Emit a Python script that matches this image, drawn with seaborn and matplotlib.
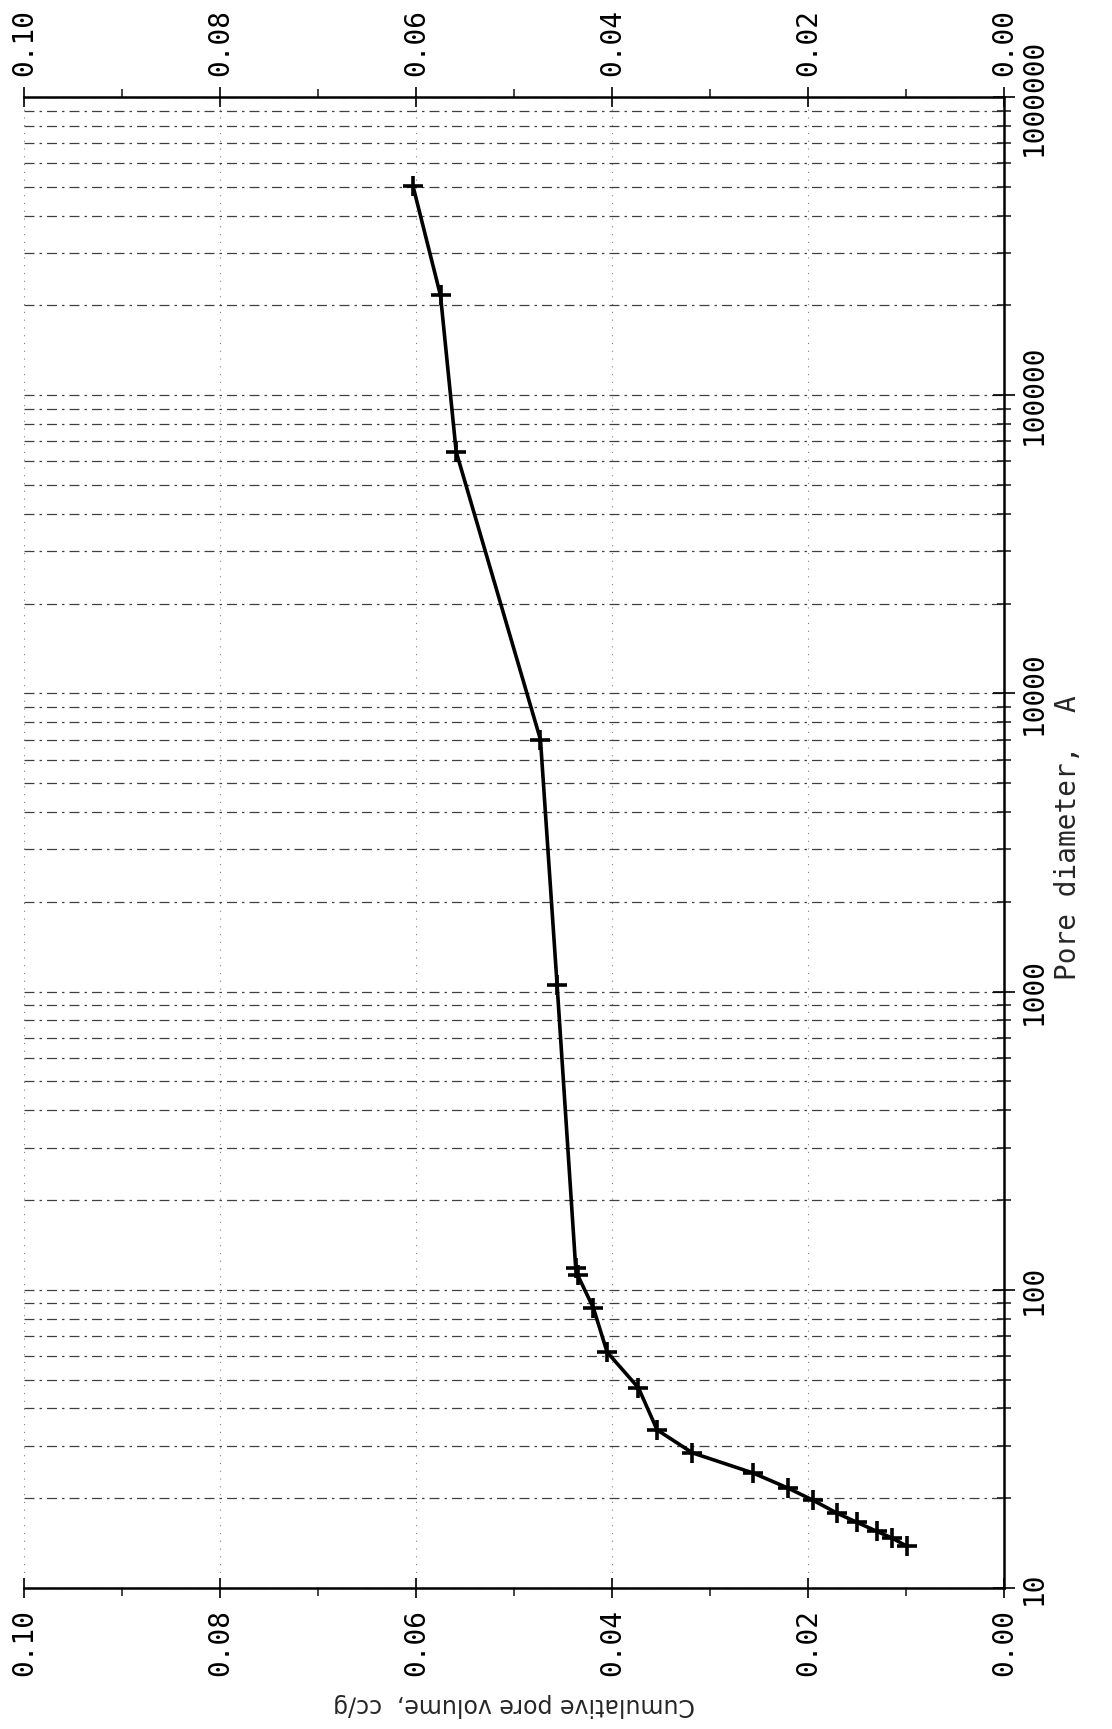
import matplotlib
matplotlib.use('Agg')
import matplotlib.pyplot as plt
from matplotlib.ticker import FixedLocator, LogLocator, NullFormatter
import seaborn as sns

# mercury porosimetry curve
pore_diameter = [13.8, 14.7, 15.5, 16.6, 17.8, 19.7, 21.6, 24.3, 28.4, 33.9,
                 46.9, 61.8, 86.9, 112, 118, 1050, 7000, 64600, 216000, 502000]
cum_volume = [0.0099, 0.0114, 0.0130, 0.0150, 0.0170, 0.0195, 0.0220, 0.0256, 0.0318, 0.0354,
              0.0373, 0.0405, 0.0419, 0.0435, 0.0437, 0.0456, 0.0473, 0.0559, 0.0575, 0.0603]

volume_ticks = [0.00, 0.02, 0.04, 0.06, 0.08, 0.10]
volume_labels = ['0.00', '0.02', '0.04', '0.06', '0.08', '0.10']
volume_minor = [0.01, 0.03, 0.05, 0.07, 0.09]
diameter_ticks = [10, 100, 1000, 10000, 100000, 1000000]
diameter_labels = ['10', '100', '1000', '10000', '100000', '1000000']

sns.set_style('white')
plt.rcParams['font.family'] = ['DejaVu Sans Mono', 'DejaVu Sans']

fig = plt.figure(figsize=(11.12, 17.29), dpi=100)
ax = fig.add_axes([24 / 1112, 141 / 1729, 980 / 1112, 1491 / 1729])

sns.lineplot(x=cum_volume, y=pore_diameter, sort=False, color='black',
             linewidth=2.6, marker='+', markersize=14, markeredgewidth=2.6,
             markeredgecolor='black', ax=ax)

ax.set_yscale('log')
ax.set_ylim(10, 1e6)
ax.set_xlim(0.10, 0.0)

# volume axis (drawn along top and bottom)
ax.set_xticks(volume_ticks)
ax.set_xticklabels(volume_labels)
ax.xaxis.set_minor_locator(FixedLocator(volume_minor))
ax.tick_params(axis='x', which='major', top=True, bottom=True, labeltop=True,
               labelbottom=True, direction='inout', length=14, width=1.2,
               pad=8, labelsize=20, labelrotation=90, colors='black')
ax.tick_params(axis='x', which='minor', top=True, bottom=True,
               direction='out', length=6, width=1.2)

# pore diameter axis (right side)
ax.set_yticks(diameter_ticks)
ax.set_yticklabels(diameter_labels)
ax.yaxis.set_minor_locator(LogLocator(base=10, subs=range(2, 10)))
ax.yaxis.set_minor_formatter(NullFormatter())
ax.tick_params(axis='y', which='major', left=False, right=True, labelleft=False,
               labelright=True, direction='inout', length=16, width=1.2,
               pad=3, labelsize=20, labelrotation=90, colors='black')
ax.tick_params(axis='y', which='minor', left=False, right=True,
               direction='inout', length=10, width=1.2)
for lab in ax.get_yticklabels():
    lab.set_va('center')

ax.set_axisbelow(True)
ax.grid(which='both', axis='y', color='0.25', linestyle=(0, (8, 4, 2, 4)), linewidth=0.9)
ax.grid(which='major', axis='x', color='0.5', linestyle=(0, (1, 6)), linewidth=0.8)

for side in ['top', 'right', 'bottom']:
    ax.spines[side].set_color('black')
    ax.spines[side].set_linewidth(1.8)
ax.spines['left'].set_visible(False)

ax.text(1.065, 0.503, 'Pore diameter,  A', transform=ax.transAxes, rotation=90,
        ha='center', va='center', fontsize=20)
ax.text(0.5, -0.0785, 'Cumulative pore volume,  cc/g', transform=ax.transAxes,
        rotation=180, ha='center', va='center', fontsize=17, family='DejaVu Sans')

fig.savefig('out.png', dpi=100)
